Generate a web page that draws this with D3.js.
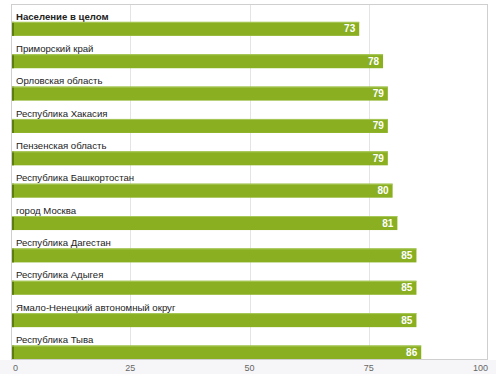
<!DOCTYPE html>
<html lang="ru">
  <head>
    <meta charset="utf-8">
    <title>Regions</title>
    <script src="https://d3js.org/d3.v7.min.js"></script>
    <style>
      body { margin: 0; background: #fff; }
      text { font-family: "Liberation Sans", Arial, sans-serif; }
    </style>
  </head>
  <body>
    <script>

// data

  var regions = ["Население в целом", "Приморский край", "Орловская область",
    "Республика Хакасия", "Пензенская область", "Республика Башкортостан",
    "город Москва", "Республика Дагестан", "Республика Адыгея",
    "Ямало-Ненецкий автономный округ", "Республика Тыва"];
  var values = [73, 78, 79, 79, 79, 80, 81, 85, 85, 85, 86];
  var ticks = [0, 25, 50, 75, 100];

  var W = 496, H = 385;
  var mLeft = 11, mRight = 488, mTop = 4, mBottom = 360;

  var svg = d3.select("body")
    .append("svg")
      .attr("width", W)
      .attr("height", H);

  // faint grey strip under the plot
  svg.append("rect")
      .attr("x", 0).attr("y", mBottom).attr("width", W).attr("height", 14)
      .attr("fill", "#f6f6f8");

  var x = d3.scaleLinear().domain([0, 100]).range([mLeft, mRight]);
  var y = d3.scaleBand().domain(regions).range([mTop, mBottom]);
  var bh = y.bandwidth();

  // plot background
  svg.append("rect")
      .attr("x", mLeft).attr("y", mTop)
      .attr("width", mRight - mLeft).attr("height", mBottom - mTop)
      .attr("fill", "#fff");

  // gridlines
  svg.selectAll("line.grid")
      .data(ticks.slice(1, 4))
    .enter().append("line")
      .attr("class", "grid")
      .attr("x1", d => Math.round(x(d)) + 0.5).attr("x2", d => Math.round(x(d)) + 0.5)
      .attr("y1", mTop).attr("y2", mBottom)
      .attr("stroke", "#e4e4e4");

  var rows = svg.selectAll("g.row")
      .data(regions)
    .enter().append("g")
      .attr("class", "row")
      .attr("transform", d => "translate(0," + y(d) + ")");

  rows.append("text")
      .attr("x", mLeft + 5)
      .attr("y", 15.5)
      .attr("font-size", "9.6px")
      .attr("font-weight", (d, i) => i == 0 ? "bold" : "normal")
      .attr("fill", "#222")
      .text(d => d);

  rows.append("rect")
      .attr("x", mLeft)
      .attr("y", bh - 14.5)
      .attr("width", (d, i) => x(values[i]) - mLeft)
      .attr("height", 14)
      .attr("fill", "#8ab022");

  rows.append("rect")
      .attr("x", mLeft)
      .attr("y", bh - 14.5)
      .attr("width", 3)
      .attr("height", 14)
      .attr("fill", "#5d7d0e");

  rows.append("line")
      .attr("x1", mLeft).attr("x2", (d, i) => x(values[i]))
      .attr("y1", bh - 14).attr("y2", bh - 14)
      .attr("stroke", "#a8c85a");

  rows.append("text")
      .attr("x", (d, i) => x(values[i]) - 4)
      .attr("y", bh - 4)
      .attr("text-anchor", "end")
      .attr("font-size", "10px")
      .attr("font-weight", "bold")
      .attr("fill", "#fff")
      .text((d, i) => values[i]);

  // border
  svg.append("rect")
      .attr("x", mLeft + 0.5).attr("y", mTop + 0.5)
      .attr("width", mRight - mLeft - 1).attr("height", mBottom - mTop - 1)
      .attr("fill", "none")
      .attr("stroke", "#cfcfcf");

  // axis labels
  svg.selectAll("text.tick")
      .data(ticks)
    .enter().append("text")
      .attr("class", "tick")
      .attr("x", d => d == 0 ? x(d) + 2 : x(d))
      .attr("y", 371)
      .attr("text-anchor", d => d == 0 ? "start" : d == 100 ? "end" : "middle")
      .attr("font-size", "9px")
      .attr("fill", "#666")
      .text(d => d);

    </script>
  </body>
</html>
